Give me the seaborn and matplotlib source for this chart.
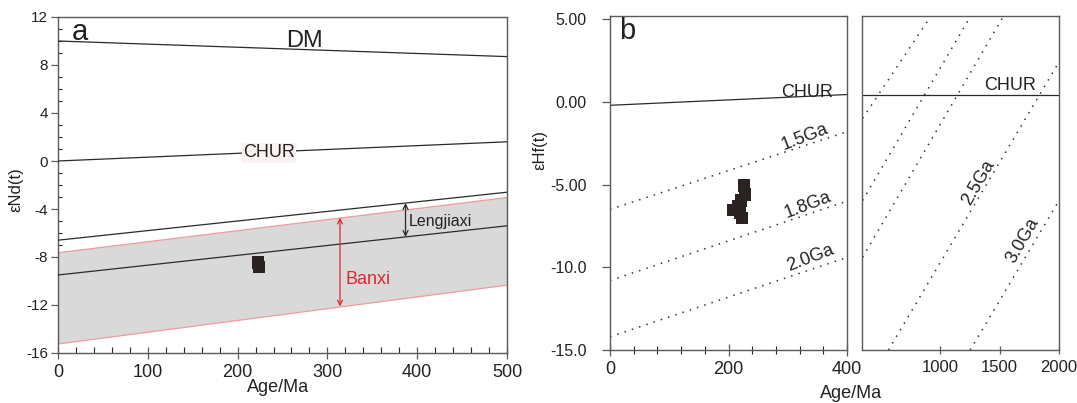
import numpy as np
import matplotlib
matplotlib.use("Agg")
import matplotlib.pyplot as plt
from matplotlib.ticker import MultipleLocator, FixedLocator, FixedFormatter
import seaborn as sns

sns.set_theme(style="ticks")
plt.rcParams["font.family"] = ["Liberation Sans", "DejaVu Sans"]
plt.rcParams["axes.unicode_minus"] = False

# ---------------- data: panel a (eNd vs age) ----------------
age_a = [0, 500]
dm_a = [10.0, 8.7]
chur_a = [0.0, 1.6]
leng_top = [-6.6, -2.6]
leng_bot = [-9.5, -5.4]
banxi_top = [-7.6, -3.0]
banxi_bot = [-15.2, -10.3]
sample_a_age = [223, 224]
sample_a_end = [-8.45, -8.85]
a_yticks = [-16, -12, -8, -4, 0, 4, 8, 12]
a_xticks = [0, 100, 200, 300, 400, 500]
leng_arrow_age = 387
banxi_arrow_age = 314

# ---------------- data: panel b (eHf vs age) ----------------
age_b = [0, 400]
chur_b = [-0.2, 0.45]
ga15 = [-6.5, -1.8]
ga18 = [-10.8, -6.0]
ga20 = [-14.2, -9.4]
sample_b_age = [226, 228, 221, 216, 208, 219, 223]
sample_b_ehf = [-5.05, -5.6, -5.95, -6.3, -6.55, -6.7, -7.0]
b_yticks = [5, 0, -5, -10, -15]
b_yticklabels = ["5.00", "0.00", "-5.00", "-10.0", "-15.0"]
b_xticks = [0, 200, 400]

# right sub-panel (extended age range)
chur_r_age = [340, 2000]
chur_r = [0.4, 0.4]
r_lines_age = [[345, 916], [345, 1252], [345, 1529], [563, 2000], [1252, 2000]]
r_lines_ehf = [[-0.99, 5.15], [-5.96, 5.15], [-9.39, 5.15], [-15.0, 2.42], [-15.0, -5.96]]
r_xticks = [1000, 1500, 2000]

# ---------------- styling ----------------
W, H = 1077, 403
fig = plt.figure(figsize=(W / 100, H / 100), dpi=100)

def px_axes(l, t, r, b):
    return fig.add_axes([l / W, 1 - b / H, (r - l) / W, (b - t) / H])

ax_a = px_axes(58, 17, 507, 353)
ax_b = px_axes(610, 16, 847, 350)
ax_r = px_axes(862, 16, 1059, 350)

spine_c = "#5a5a5a"
line_c = "#2a2a2a"
red_c = "#e3262b"
band_edge = "#f29a9a"
dot_ls = (0, (1, 4))
pt_c = "#2b2321"

for ax in (ax_a, ax_b, ax_r):
    ax.set_facecolor("white")
    for s in ax.spines.values():
        s.set_color(spine_c)
        s.set_linewidth(1.0)
        s.set_visible(True)
    ax.tick_params(colors=spine_c, labelcolor="#222222")

# ---------------- panel a ----------------
ax_a.fill_between(age_a, banxi_bot, banxi_top, facecolor="#d9d9d9",
                  edgecolor=band_edge, linewidth=0.9, zorder=1)
for yv in (dm_a, chur_a, leng_top, leng_bot):
    sns.lineplot(x=age_a, y=yv, ax=ax_a, color=line_c, linewidth=0.9, zorder=3)
sns.scatterplot(x=sample_a_age, y=sample_a_end, ax=ax_a, marker="s", s=80,
                color=pt_c, edgecolor="none", linewidth=0, zorder=5)

y1 = np.interp(leng_arrow_age, age_a, leng_top)
y2 = np.interp(leng_arrow_age, age_a, leng_bot)
ax_a.annotate("", xy=(leng_arrow_age, y1), xytext=(leng_arrow_age, y2),
              arrowprops=dict(arrowstyle="<->", color=line_c, lw=0.9,
                              mutation_scale=9, shrinkA=0, shrinkB=0), zorder=4)
y1 = np.interp(banxi_arrow_age, age_a, banxi_top)
y2 = np.interp(banxi_arrow_age, age_a, banxi_bot)
ax_a.annotate("", xy=(banxi_arrow_age, y1), xytext=(banxi_arrow_age, y2),
              arrowprops=dict(arrowstyle="<->", color=red_c, lw=0.9,
                              mutation_scale=9, shrinkA=0, shrinkB=0), zorder=4)

ax_a.text(275, 10.0, "DM", fontsize=17, ha="center", va="center", color="#222")
ax_a.text(235, 0.7, "CHUR", fontsize=13, ha="center", va="center", color="#222",
          bbox=dict(facecolor="#fdf2f2", edgecolor="none", pad=1.0), zorder=4)
ax_a.text(391, -5.05, "Lengjiaxi", fontsize=11.5, ha="left", va="center", color="#222")
ax_a.text(320, -9.85, "Banxi", fontsize=13, ha="left", va="center", color=red_c)
ax_a.text(0.03, 0.955, "a", transform=ax_a.transAxes, fontsize=21,
          ha="left", va="center", color="#222")

ax_a.set_xlim(0, 500)
ax_a.set_ylim(-16, 12)
ax_a.yaxis.set_major_locator(FixedLocator(a_yticks))
ax_a.yaxis.set_minor_locator(MultipleLocator(1))
ax_a.xaxis.set_major_locator(FixedLocator(a_xticks))
ax_a.xaxis.set_minor_locator(MultipleLocator(20))
ax_a.tick_params(axis="y", which="major", direction="out", length=5, width=0.9, labelsize=11, pad=2)
ax_a.tick_params(axis="y", which="minor", direction="in", length=3, width=0.8, left=True)
ax_a.tick_params(axis="x", which="major", direction="inout", length=8, width=0.9, labelsize=13, pad=4)
ax_a.tick_params(axis="x", which="minor", direction="in", length=4, width=0.8, bottom=True)
ax_a.set_xlabel("")
ax_a.set_ylabel("")

# ---------------- panel b (left) ----------------
sns.lineplot(x=age_b, y=chur_b, ax=ax_b, color=line_c, linewidth=0.9)
for yv in (ga15, ga18, ga20):
    sns.lineplot(x=age_b, y=yv, ax=ax_b, color="#333333", linewidth=1.1, linestyle=dot_ls)
sns.scatterplot(x=sample_b_age, y=sample_b_ehf, ax=ax_b, marker="s", s=80,
                color=pt_c, edgecolor="none", linewidth=0, zorder=5)
ax_b.text(332, 0.6, "CHUR", fontsize=13, ha="center", va="center", color="#222")
ax_b.text(329, -2.15, "1.5Ga", fontsize=13, ha="center", va="center", color="#222",
          rotation=21, rotation_mode="anchor")
ax_b.text(334, -6.25, "1.8Ga", fontsize=13, ha="center", va="center", color="#222",
          rotation=21, rotation_mode="anchor")
ax_b.text(338, -9.45, "2.0Ga", fontsize=13, ha="center", va="center", color="#222",
          rotation=21, rotation_mode="anchor")
ax_b.text(0.04, 0.955, "b", transform=ax_b.transAxes, fontsize=21,
          ha="left", va="center", color="#222")
ax_b.set_xlim(0, 400)
ax_b.set_ylim(-15, 5.2)
ax_b.yaxis.set_major_locator(FixedLocator(b_yticks))
ax_b.yaxis.set_major_formatter(FixedFormatter(b_yticklabels))
ax_b.xaxis.set_major_locator(FixedLocator(b_xticks))
ax_b.xaxis.set_minor_locator(MultipleLocator(40))
ax_b.tick_params(axis="y", which="major", direction="out", length=6, width=0.9, labelsize=11.5, pad=11)
ax_b.tick_params(axis="x", which="major", direction="inout", length=8, width=0.9, labelsize=13, pad=4)
ax_b.tick_params(axis="x", which="minor", direction="inout", length=6, width=0.8, bottom=True)
ax_b.set_xlabel("")
ax_b.set_ylabel("")

# ---------------- panel b (right) ----------------
sns.lineplot(x=chur_r_age, y=chur_r, ax=ax_r, color=line_c, linewidth=0.9)
for xs, ys in zip(r_lines_age, r_lines_ehf):
    sns.lineplot(x=xs, y=ys, ax=ax_r, color="#333333", linewidth=1.1, linestyle=dot_ls)
ax_r.text(1588, 1.0, "CHUR", fontsize=13, ha="center", va="center", color="#222")
ax_r.text(1319, -4.85, "2.5Ga", fontsize=13, ha="center", va="center", color="#222",
          rotation=60, rotation_mode="anchor")
ax_r.text(1697, -8.4, "3.0Ga", fontsize=13, ha="center", va="center", color="#222",
          rotation=60, rotation_mode="anchor")
ax_r.set_xlim(340, 2000)
ax_r.set_ylim(-15, 5.2)
ax_r.set_yticks([])
ax_r.xaxis.set_major_locator(FixedLocator(r_xticks))
ax_r.tick_params(axis="x", which="major", direction="inout", length=6, width=0.9, labelsize=12, pad=4)
ax_r.set_xlabel("")
ax_r.set_ylabel("")

# ---------------- axis titles ----------------
fig.text(278 / W, 1 - 388 / H, "Age/Ma", fontsize=13, ha="center", va="center", color="#222")
fig.text(851 / W, 1 - 393 / H, "Age/Ma", fontsize=13, ha="center", va="center", color="#222")
fig.text(16 / W, 1 - 190 / H, "\u03b5Nd(t)", fontsize=12, ha="center", va="center",
         rotation=90, color="#222")
fig.text(540 / W, 1 - 150 / H, "\u03b5Hf(t)", fontsize=12, ha="center", va="center",
         rotation=90, color="#222")

fig.savefig("out.png", dpi=100, facecolor="white")
